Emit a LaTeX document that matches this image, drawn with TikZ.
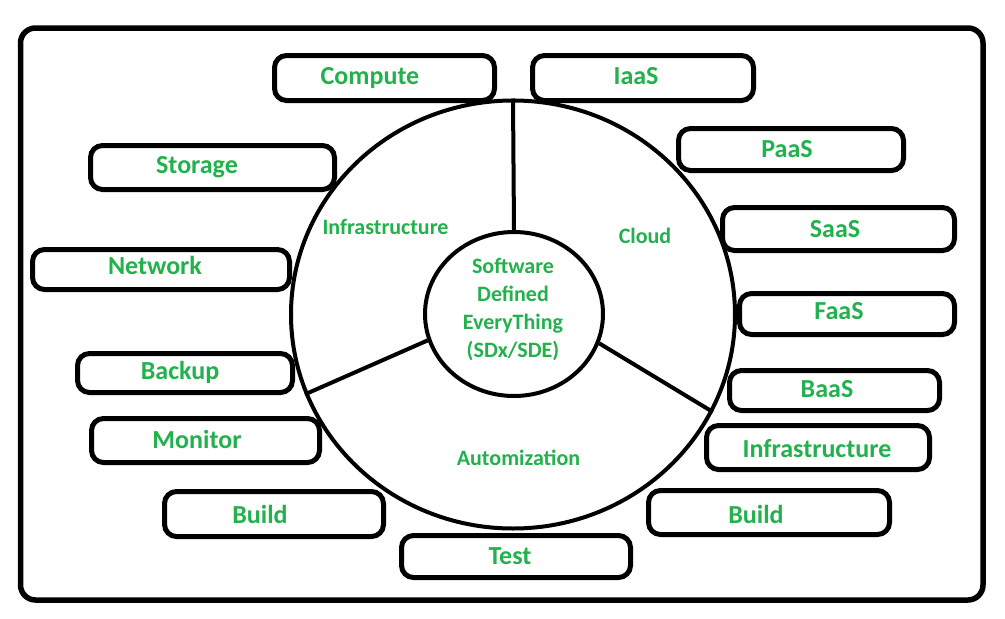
\documentclass[tikz,border=0pt]{standalone}
\usepackage{xcolor}
\usepackage{fontspec}
\setmainfont{Carlito}
\usetikzlibrary{shapes.geometric}
\definecolor{paintgreen}{RGB}{34,177,76}

\begin{document}
\begin{tikzpicture}[x=1pt,y=-1pt,
    tag/.style={draw, line width=5pt, rounded corners=12pt, inner sep=0pt},
    tagtext/.style={anchor=base, inner sep=0pt, text=paintgreen, font=\bfseries\fontsize{26}{30}\selectfont},
    parttext/.style={anchor=base, inner sep=0pt, text=paintgreen, font=\bfseries\fontsize{22}{26}\selectfont},
    spoke/.style={line width=4pt}]
   \useasboundingbox (0,0) rectangle (1005,619);
   \draw[line width=5.5pt, rounded corners=15pt] (20.5,28) rectangle (983,600);
   % ring and core
   \node[draw, ellipse, line width=4pt, inner sep=0pt, minimum width=444pt, minimum height=428pt] (ring) at (513,314.5) {};
   \node[draw, ellipse, line width=4pt, inner sep=0pt, minimum width=178pt, minimum height=164pt] (core) at (514,314) {};
   \node[text=paintgreen, align=center, inner sep=0pt, font=\bfseries\fontsize{22}{28.3}\selectfont] (sdx) at (513,309.5) {Software\\Defined\\EveryThing\\(SDx/SDE)};
   \draw[spoke] (core.90) -- (ring.90);
   \draw[spoke] (core.197) -- (ring.201);
   \draw[spoke] (core.341) -- (ring.334);
   \node[parttext] (infra) at (385.5,234) {Infrastructure};
   \node[parttext] (cloud) at (645,243) {Cloud};
   \node[parttext] (auto) at (518.5,465) {Automization};
   % boxes left
   \node[tag, minimum width=220pt, minimum height=45pt] (compute) at (384.5,78) {};
   \node[tagtext] (computeL) at (370,84) {Compute};
   \node[tag, minimum width=244pt, minimum height=44pt] (storage) at (212.5,167.5) {};
   \node[tagtext] (storageL) at (197,173) {Storage};
   \node[tag, minimum width=257pt, minimum height=40pt] (network) at (161,269.5) {};
   \node[tagtext] (networkL) at (155,274) {Network};
   \node[tag, minimum width=215pt, minimum height=39pt] (backup) at (185,373) {};
   \node[tagtext] (backupL) at (180,379) {Backup};
   \node[tag, minimum width=228pt, minimum height=44pt] (monitor) at (205.5,440.5) {};
   \node[tagtext] (monitorL) at (197,448) {Monitor};
   \node[tag, minimum width=219pt, minimum height=45pt] (buildA) at (274,514) {};
   \node[tagtext] (buildAL) at (260,523) {Build};
   \node[tag, minimum width=229pt, minimum height=42pt] (test) at (516,556.5) {};
   \node[tagtext] (testL) at (510,564) {Test};
   % boxes right
   \node[tag, minimum width=221pt, minimum height=45pt] (iaas) at (643,78) {};
   \node[tagtext] (iaasL) at (636,84) {IaaS};
   \node[tag, minimum width=225pt, minimum height=42pt] (paas) at (791,149.5) {};
   \node[tagtext] (paasL) at (787,157) {PaaS};
   \node[tag, minimum width=232pt, minimum height=43pt] (saas) at (838.5,229) {};
   \node[tagtext] (saasL) at (835,237) {SaaS};
   \node[tag, minimum width=215pt, minimum height=41pt] (faas) at (847,314) {};
   \node[tagtext] (faasL) at (839,319) {FaaS};
   \node[tag, minimum width=210pt, minimum height=40pt] (baas) at (834.5,390.5) {};
   \node[tagtext] (baasL) at (827,397) {BaaS};
   \node[tag, minimum width=223pt, minimum height=44pt] (infraB) at (818,447.5) {};
   \node[tagtext] (infraBL) at (817,457) {Infrastructure};
   \node[tag, minimum width=241pt, minimum height=44pt] (buildB) at (769,512.5) {};
   \node[tagtext] (buildBL) at (756,523) {Build};
\end{tikzpicture}
\end{document}
